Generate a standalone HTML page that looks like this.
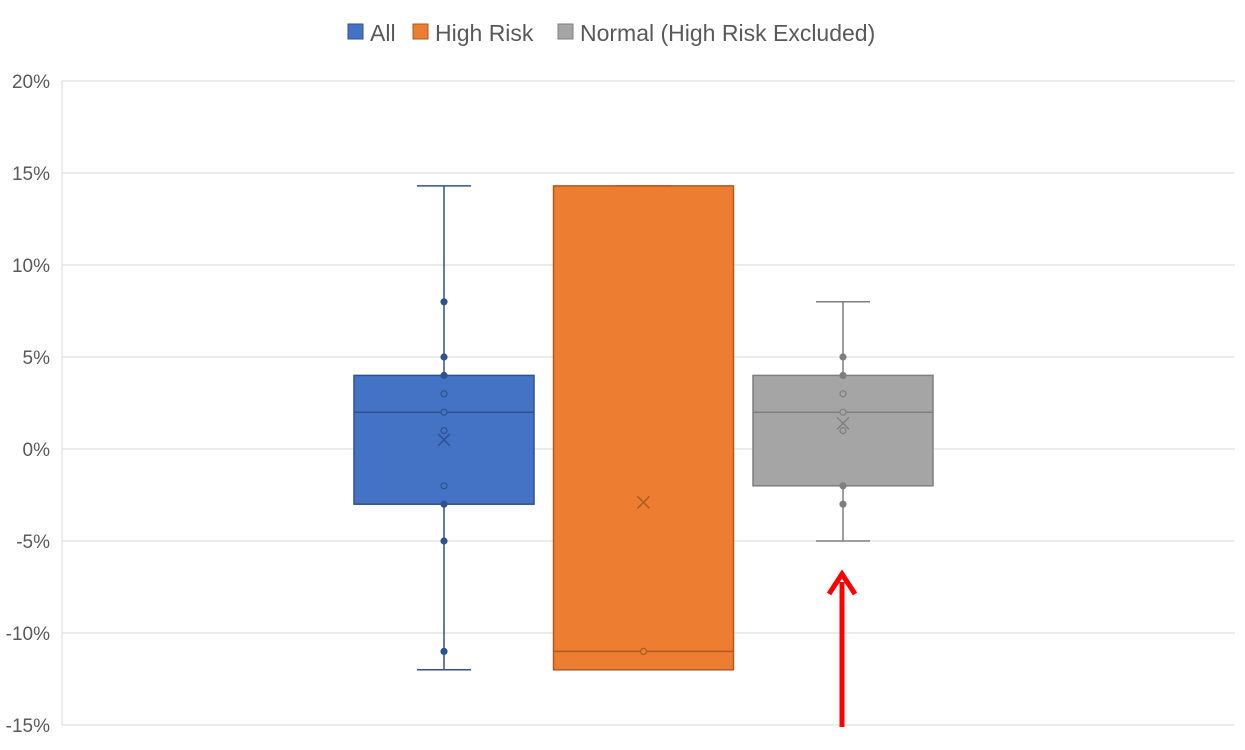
<!DOCTYPE html>
<html><head><meta charset="utf-8"><style>
body{margin:0;background:#fff;font-family:"Liberation Sans",sans-serif;}
</style></head><body>
<svg width="1245" height="745" xmlns="http://www.w3.org/2000/svg" font-family="Liberation Sans, sans-serif">
<g id="grid"></g>
<g id="yt"></g>
<g id="boxes"></g>
<g font-size="23" fill="#595959">
<rect x="348" y="24" width="15" height="15" fill="#4472c4" stroke="#2f528f"/>
<text x="370" y="41">All</text>
<rect x="413" y="24" width="15" height="15" fill="#ed7d31" stroke="#ae5a21"/>
<text x="435" y="41">High Risk</text>
<rect x="558" y="24" width="15" height="15" fill="#a5a5a5" stroke="#7f7f7f"/>
<text x="580" y="41">Normal (High Risk Excluded)</text>
</g>
<g>
<line x1="842" y1="727" x2="842" y2="582" stroke="#ff0000" stroke-width="5"/>
<polyline points="829,594 842,574 855,594" fill="none" stroke="#ff0000" stroke-width="5"/>
</g>
</svg>
<script>
const ticks=[20,15,10,5,0,-5,-10,-15];
const series=["All","High Risk","Normal (High Risk Excluded)"];
const q1=[-3,-12,-2];
const q3=[4,14.3,4];
const med=[2,-11,2];
const lo=[-12,-12,-5];
const hi=[14.3,14.3,8];
const means=[0.5,-2.9,1.4];
const pointsAll=[8,5,4,3,2,1,-2,-3,-5,-11];
const pointsHigh=[-11];
const pointsNormal=[5,4,3,2,1,-2,-3];
const points=[pointsAll,pointsHigh,pointsNormal];
const fills=["#4472c4","#ed7d31","#a5a5a5"];
const strokes=["#2f528f","#ae5a21","#7f7f7f"];
const NS="http://www.w3.org/2000/svg";
const y=v=>449-v*18.4;
const cx=i=>444+i*199.5;
function mk(t,a,p){const e=document.createElementNS(NS,t);for(const k in a)e.setAttribute(k,a[k]);p.appendChild(e);return e;}
const grid=document.getElementById('grid'),yt=document.getElementById('yt'),bx=document.getElementById('boxes');
mk('line',{x1:62,y1:81,x2:62,y2:725,stroke:'#d9d9d9'},grid);
ticks.forEach(t=>{
 const l=mk('line',{x1:62,x2:1235,y1:y(t),y2:y(t),stroke:'#d9d9d9'},grid);
 
 
 const tx=mk('text',{x:50,y:y(t)+7,'text-anchor':'end','font-size':'19',fill:'#595959'},yt);
 tx.textContent=t+'%';
 
 
});
series.forEach((s,i)=>{
 const c=cx(i),g=mk('g',{},bx);
 
 
 const st=strokes[i];
 mk('line',{x1:c,x2:c,y1:y(hi[i]),y2:y(lo[i]),stroke:st,'stroke-width':1.5},g);
 mk('line',{x1:c-27,x2:c+27,y1:y(hi[i]),y2:y(hi[i]),stroke:st,'stroke-width':1.5},g);
 mk('line',{x1:c-27,x2:c+27,y1:y(lo[i]),y2:y(lo[i]),stroke:st,'stroke-width':1.5},g);
 mk('rect',{x:c-90,y:y(q3[i]),width:180,height:y(q1[i])-y(q3[i]),fill:fills[i],stroke:st,'stroke-width':1.5},g);
 mk('line',{x1:c-90,x2:c+90,y1:y(med[i]),y2:y(med[i]),stroke:st,'stroke-width':1.5},g);
 points[i].forEach(p=>{
  const filled=(p>=q3[i]||p<=q1[i]);
  mk('circle',{cx:c,cy:y(p),r:3,fill:filled?st:fills[i],stroke:st,'stroke-width':1.2},g);
 });
 const m=y(means[i]);
 mk('path',{d:`M${c-6} ${m-6}L${c+6} ${m+6}M${c+6} ${m-6}L${c-6} ${m+6}`,stroke:st,'stroke-width':1.5},g);
});
</script>
</body></html>
